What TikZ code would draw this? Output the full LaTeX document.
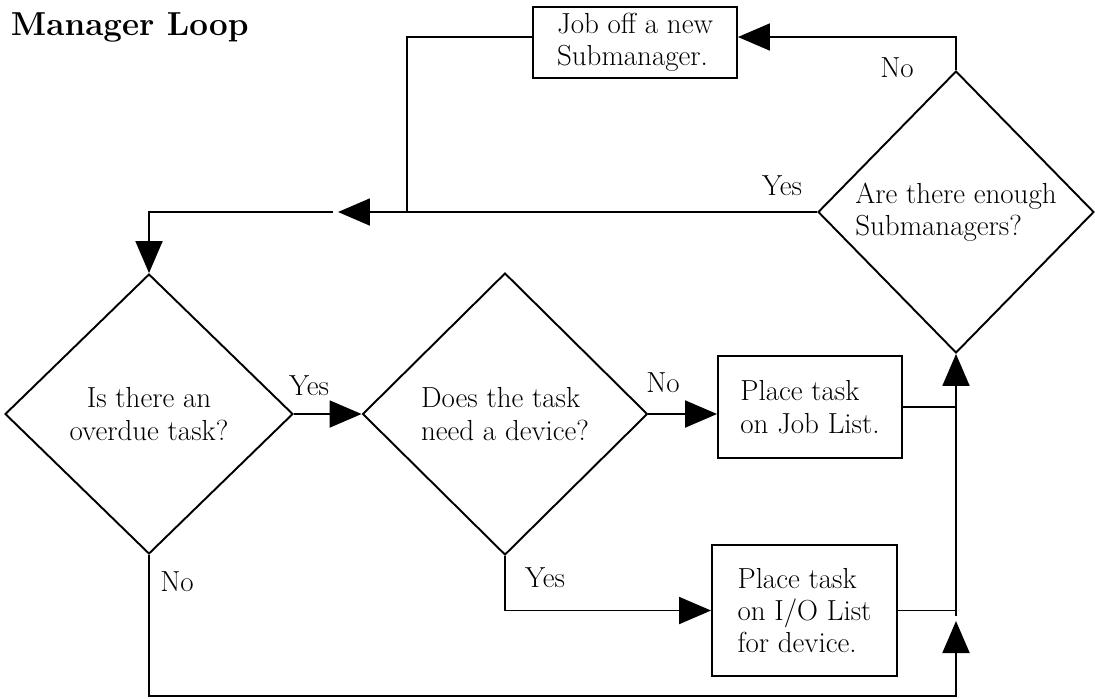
\documentclass[tikz,border=0pt]{standalone}
\usepackage{fontspec}
\usepackage{tikz}
\usetikzlibrary{shapes.geometric,arrows.meta,positioning,calc}

\begin{document}
\begin{tikzpicture}[
    x=0.02cm, y=-0.02cm,
    >={Triangle[length=0.64cm, width=0.54cm]},
    line width=1.1pt,
    txt/.style={font=\fontsize{16.5}{18.4}\selectfont},
    box/.style={draw, txt, align=left, inner sep=0pt},
    decision/.style={draw, diamond, aspect=1, txt, inner sep=0pt},
    lbl/.style={txt, inner sep=0pt},
]

\useasboundingbox (0,0) rectangle (1095,698);

% Title
\node[font=\fontsize{18.9}{22}\selectfont\bfseries, anchor=base west, inner sep=0pt] (title) at (10,35) {Manager Loop};

% Enough submanagers check (top right)
\node[decision, align=left, minimum width=5.52cm, minimum height=5.64cm] (enough) at (956,212) {Are there enough\\Submanagers?};

% Job off box (top)
\node[box, minimum width=4.08cm, minimum height=1.42cm] (jobsub) at (635,42.5) {Job off a new\\Submanager.};

% Overdue task check (left)
\node[decision, align=center, minimum width=5.76cm, minimum height=5.6cm] (overdue) at (149,414) {Is there an\\overdue task?};

% Device check (middle)
\node[decision, align=left, minimum width=5.7cm, minimum height=5.64cm] (device) at (505,414) {Does the task\\need a device?};

% Job List box
\node[box, minimum width=3.68cm, minimum height=2.04cm] (joblist) at (810,407) {Place task\\on Job List.};

% I/O List box
\node[box, minimum width=3.7cm, minimum height=2.62cm] (iolist) at (804.5,610.5) {Place task\\on I/O List\\for device.};

% Helper points for the loops
\coordinate (topy) at (0,37);
\coordinate (split) at (407,212);
\coordinate (tipL) at (338,212);
\coordinate (restL) at (333,212);
\coordinate (lowy) at (0,616);
\coordinate (upy) at (0,621);
\coordinate (boty) at (0,696);
\coordinate (riser) at (enough.south |- lowy);
\coordinate (uptip) at (enough.south |- upy);

% No: job off a new submanager
\draw[->] (enough.north) |- (jobsub.east |- topy);
\draw (jobsub.west |- topy) -| (split);

% Yes: back round to the overdue check
\draw[->] (enough.west) -- (tipL);
\draw[->] (restL) -| (overdue.north);

% Overdue -> device
\draw[->] (overdue.east) -- (device.west);

% Device: No / Yes
\draw[->] (device.east) -- (device.east -| joblist.west);
\draw[->] (device.south) |- (iolist.west);

% Lists feed back up
\draw (joblist.east) -- (joblist.east -| riser);
\draw (iolist.east) -- (iolist.east -| riser);
\draw[->] (riser) -- (enough.south);

% No overdue task: round the bottom
\draw[->] (overdue.south) |- (boty -| riser) -- (uptip);

% Branch labels
\node[lbl] (no1) at (897,68) {No};
\node[lbl] (yes1) at (782,186) {Yes};
\node[lbl] (yes2) at (309,386) {Yes};
\node[lbl] (no2) at (663,383) {No};
\node[lbl] (yes3) at (545,578) {Yes};
\node[lbl] (no3) at (177,582) {No};

\end{tikzpicture}
\end{document}
